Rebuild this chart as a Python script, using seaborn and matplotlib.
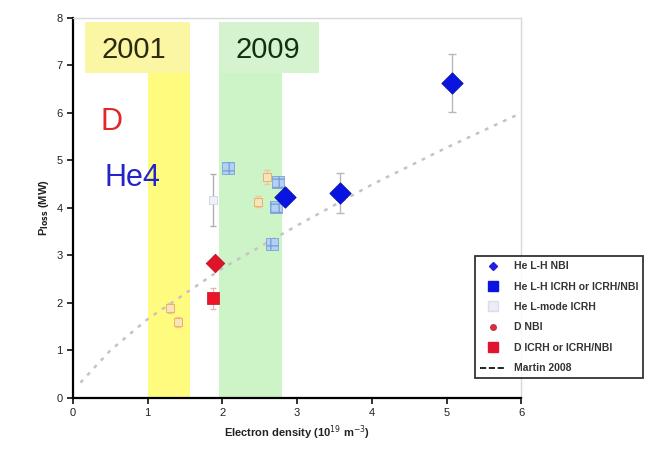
import numpy as np
import pandas as pd
import seaborn as sns
import matplotlib
import matplotlib.pyplot as plt
from matplotlib.lines import Line2D
from matplotlib.patches import Rectangle
matplotlib.use('Agg')

# He L-H NBI (duże niebieskie romby)
he_nbi_x = [2.84, 3.57, 5.07]
he_nbi_y = [4.23, 4.32, 6.63]
he_nbi_err = [0.12, 0.42, 0.62]

# Wyblakłe kwadraty He (ICRH, starsze dane)
he_icrh_x = [2.08, 2.74, 2.72, 2.66]
he_icrh_y = [4.85, 4.55, 4.02, 3.25]

# He L-mode ICRH
he_lmode_x = [1.87]
he_lmode_y = [4.17]
he_lmode_err = [0.55]

# Wyblakłe pomarańczowe punkty
old_x = [2.60, 2.48, 1.30, 1.41]
old_y = [4.65, 4.13, 1.89, 1.60]
old_err = [0.15, 0.12, 0.10, 0.10]

# D NBI i D ICRH
d_nbi_x = [1.90]
d_nbi_y = [2.84]
d_icrh_x = [1.87]
d_icrh_y = [2.10]
d_icrh_err = [0.22]

# Skalowanie Martin 2008
martin_x = [0.1, 0.5, 1.0, 2.0, 3.0, 4.0, 5.0, 6.0]
martin_y = [0.32, 1.00, 1.66, 2.73, 3.63, 4.49, 5.27, 6.00]

legend_labels = ["He L-H NBI", "He L-H ICRH or ICRH/NBI", "He L-mode ICRH",
                 "D NBI", "D ICRH or ICRH/NBI", "Martin 2008"]

sns.set_style("ticks")
plt.rcParams['font.family'] = ['Liberation Sans', 'DejaVu Sans']

fig = plt.figure(figsize=(6.46, 4.61), dpi=100)
ax = fig.add_axes([0.113, 0.137, 0.694, 0.824])

# Pasy lat 2001 i 2009
ax.add_patch(Rectangle((1.0, 0), 0.57, 6.84, color='#fffb7e', lw=0, zorder=0))
ax.add_patch(Rectangle((0.16, 6.84), 1.41, 1.08, color='#fbf6a4', lw=0, zorder=0))
ax.add_patch(Rectangle((1.95, 0), 0.85, 6.84, color='#cdf4c6', lw=0, zorder=0))
ax.add_patch(Rectangle((1.95, 6.84), 1.34, 1.08, color='#d6f3cf', lw=0, zorder=0))
ax.text(0.82, 7.33, "2001", fontsize=21, color='#2a2a10', ha='center', va='center')
ax.text(2.61, 7.33, "2009", fontsize=21, color='#103010', ha='center', va='center')
ax.text(0.52, 5.81, "D", fontsize=22, color='#e02828', ha='center', va='center')
ax.text(0.79, 4.64, "He4", fontsize=22, color='#2424c8', ha='center', va='center')

# Linia Martin 2008
sns.lineplot(x=martin_x, y=martin_y, ax=ax, color='#c4c4c4', lw=1.8,
             linestyle=(0, (1.5, 2.5)), zorder=1)

# Słupki błędów
ax.errorbar(he_nbi_x, he_nbi_y, yerr=he_nbi_err, fmt='none', ecolor='#b8b8b8',
            elinewidth=1, capsize=3, zorder=2)
ax.errorbar(he_lmode_x, he_lmode_y, yerr=he_lmode_err, fmt='none', ecolor='#b0b0b0',
            elinewidth=1, capsize=2, zorder=2)
ax.errorbar(old_x, old_y, yerr=old_err, fmt='none', ecolor='#f0c890',
            elinewidth=0.8, capsize=2, zorder=2)
ax.errorbar(d_icrh_x, d_icrh_y, yerr=d_icrh_err, fmt='none', ecolor='#f0b0b0',
            elinewidth=0.8, capsize=2, zorder=2)

# Punkty
sns.scatterplot(x=he_icrh_x, y=he_icrh_y, ax=ax, marker='s', s=75,
                color='#b4d0f2', edgecolor='#7aa2d8', linewidth=0.6,
                hatch='++', zorder=3)
sns.scatterplot(x=old_x, y=old_y, ax=ax, marker='s', s=35,
                color='#f8e4bc', edgecolor='#e4aa60', linewidth=0.6, zorder=3)
sns.scatterplot(x=he_lmode_x, y=he_lmode_y, ax=ax, marker='s', s=35,
                color='#f0f0fa', edgecolor='#d0d0e0', linewidth=0.6, zorder=3)
sns.scatterplot(x=he_nbi_x, y=he_nbi_y, ax=ax, marker='D', s=120,
                color='#0a14e0', edgecolor='#0a14a0', linewidth=0.5, zorder=4)
sns.scatterplot(x=d_nbi_x, y=d_nbi_y, ax=ax, marker='D', s=90,
                color='#e01428', edgecolor='#b01020', linewidth=0.5, zorder=4)
sns.scatterplot(x=d_icrh_x, y=d_icrh_y, ax=ax, marker='s', s=80,
                color='#ee1428', edgecolor='#c01020', linewidth=0.5, zorder=4)

ax.set_xlim(0, 6)
ax.set_ylim(0, 8)
ax.set_xticks(range(0, 7))
ax.set_yticks(range(0, 9))
ax.tick_params(labelsize=8, length=4, width=1.3, colors='#222222')
for side in ['left', 'bottom']:
    ax.spines[side].set_linewidth(1.6)
    ax.spines[side].set_color('black')
for side in ['top', 'right']:
    ax.spines[side].set_visible(True)
    ax.spines[side].set_linewidth(1.0)
    ax.spines[side].set_color('#d8d8d8')

ax.set_xlabel("Electron density (10$^{19}$ m$^{-3}$)", fontsize=8, weight='bold', color='#222222')
ax.set_ylabel("P$_{\\mathbf{loss}}$ (MW)", fontsize=8, weight='bold', color='#222222')

# Legenda
handles = [
    Line2D([], [], marker='D', color='none', markerfacecolor='#2020e0', markeredgecolor='#2020e0', markersize=4),
    Line2D([], [], marker='s', color='none', markerfacecolor='#0a14e0', markeredgecolor='#0a14e0', markersize=7),
    Line2D([], [], marker='s', color='none', markerfacecolor='#ececf6', markeredgecolor='#dcdcec', markersize=7),
    Line2D([], [], marker='o', color='none', markerfacecolor='#d03040', markeredgecolor='#d03040', markersize=4),
    Line2D([], [], marker='s', color='none', markerfacecolor='#e01430', markeredgecolor='#e01430', markersize=7),
    Line2D([], [], color='black', lw=1.2, linestyle='--'),
]
leg = fig.legend(handles, legend_labels, loc='upper left',
                 bbox_to_anchor=(475 / 646, 1 - 256 / 461), fontsize=7.5,
                 labelspacing=1.0, handlelength=2.4, borderaxespad=0,
                 borderpad=0.5, frameon=True, fancybox=False, edgecolor='black')
leg.get_frame().set_linewidth(1.3)
for t in leg.get_texts():
    t.set_weight('bold')
    t.set_color('#333333')

fig.savefig("out.png", dpi=100)
